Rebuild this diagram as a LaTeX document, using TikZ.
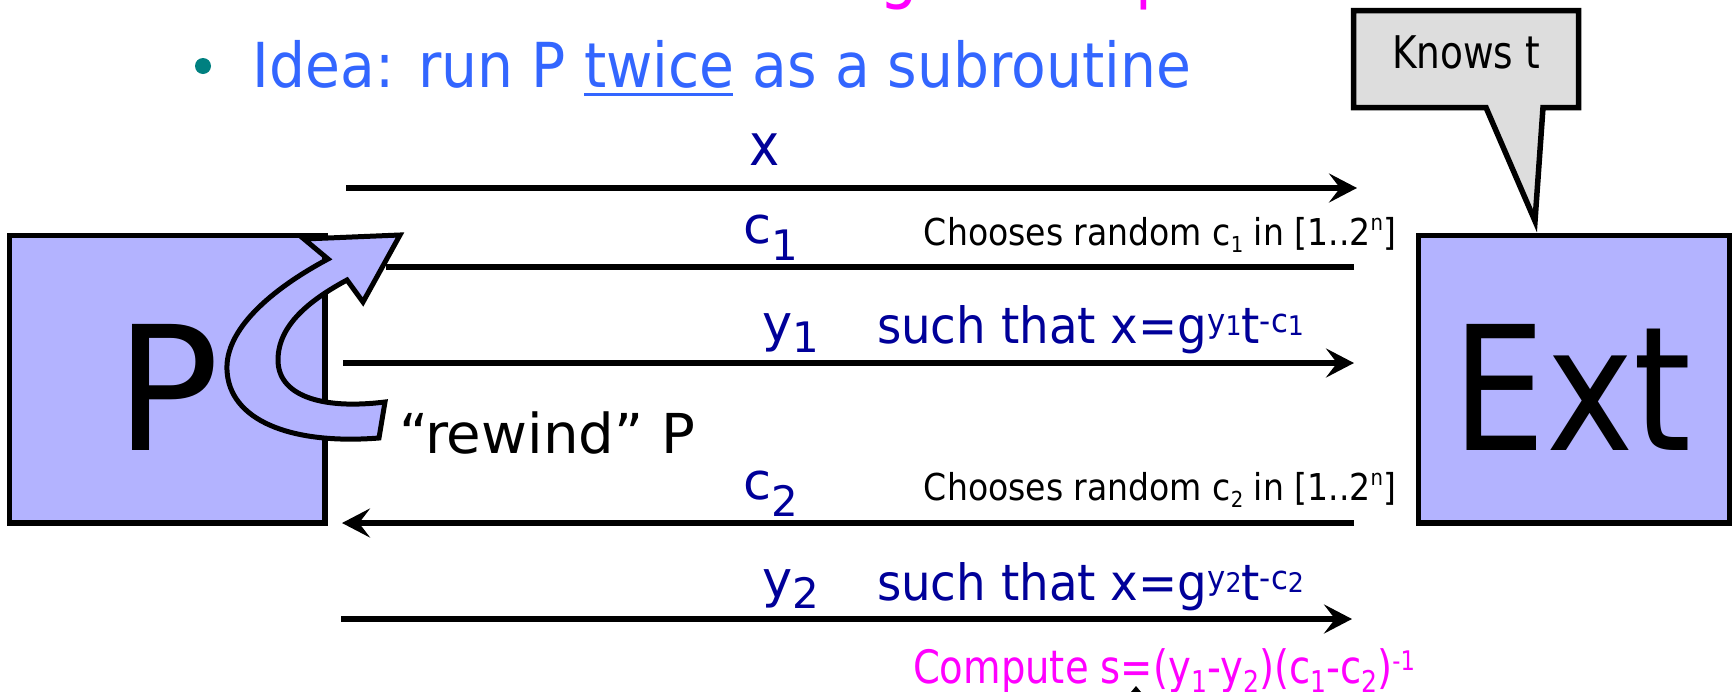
\documentclass[tikz,border=0pt]{standalone}
\usepackage{fontspec}
\usepackage{graphicx}
\setmainfont[FakeStretch=0.88]{DejaVu Sans}
\newfontfamily\widefont{DejaVu Sans}
\usetikzlibrary{arrows.meta}
\definecolor{boxfill}{HTML}{B3B3FF}
\definecolor{callfill}{HTML}{DDDDDD}
\definecolor{lbl}{HTML}{000099}
\definecolor{ideablue}{HTML}{3366FF}
\definecolor{mag}{HTML}{FF00FF}
\definecolor{bul}{HTML}{008080}
\newcommand{\fs}[1]{\fontsize{#1}{#1}\selectfont}
\newcommand{\fitto}[2]{\resizebox{#1}{\height}{#2}}
\newcommand{\lo}[1]{\raisebox{-9pt}{\fs{30}#1}}
\newcommand{\hi}[1]{\raisebox{13pt}{\fs{27}#1}}
\newcommand{\sups}[2]{\raisebox{11pt}{\fs{33}#1\raisebox{-3pt}{\fs{27}#2}}}
\begin{document}
\begin{tikzpicture}[x=1pt,y=-1pt,
  every node/.style={inner sep=0pt, outer sep=0pt},
  party/.style={draw=black, line width=5.5pt, fill=boxfill, minimum width=#1, minimum height=287.5pt},
  msg/.style={line width=5.5pt, -{Stealth[length=28pt,width=29pt,inset=11pt]}},
  plainmsg/.style={line width=5.5pt},
  lab/.style={text=lbl, anchor=base west},
  small/.style={text=black, anchor=base},
]
\useasboundingbox (0,0) rectangle (1732,691);

% title fragments (clipped by the top edge)
\node[anchor=base west, text=mag] (tg) at (879,-5) {\fs{70}g};
\node[anchor=base west, text=mag] (tp) at (1135,-5) {\fs{70}p};

% bullet line
\fill[bul] (203,66) circle[radius=8pt];
\node[anchor=base, text=ideablue] (idea) at (722,87) {\fitto{938pt}{\fs{62}Idea: run P twice as a subroutine}};
\draw[ideablue, line width=3pt] (584,94.5) -- (733,94.5);

% parties
\node[party=315.5pt] (P) at (167.25,379.25) {};
\node[party=311pt] (Ext) at (1574,379.25) {};
\node[anchor=base] (Ptext) at (168,450) {\widefont\fs{173}P};
\node[anchor=base] (Etext) at (1572,450) {\fitto{239pt}{\widefont\fs{173}Ext}};

% messages
\coordinate (xL) at (346,188);   \coordinate (xR) at (1357,188);
\coordinate (c1R) at (1354,267); \coordinate (c1L) at (386,267);
\coordinate (y1L) at (343,363);  \coordinate (y1R) at (1354,363);
\coordinate (c2R) at (1354,523); \coordinate (c2L) at (342,523);
\coordinate (y2L) at (341,619);  \coordinate (y2R) at (1352,619);
\draw[msg] (xL) -- (xR);
\draw[plainmsg] (c1R) -- (c1L);
\draw[msg] (y1L) -- (y1R);
\draw[msg] (c2R) -- (c2L);
\draw[msg] (y2L) -- (y2R);

% rewind arrow
\draw[line width=5pt, fill=boxfill, line join=miter]
  (400,235) -- (304,239) -- (328,259)
  .. controls (270,290) and (225,330) .. (227,370)
  .. controls (229,420) and (290,445) .. (379,438)
  -- (385,402)
  .. controls (320,410) and (278,395) .. (278,360)
  .. controls (278,325) and (310,300) .. (347,280)
  -- (363,302) -- cycle;
\node[anchor=base west] (rewind) at (399,453) {\fitto{296pt}{\widefont\fs{55}“rewind” P}};

% callout
\draw[line width=5.5pt, fill=callfill, line join=miter]
  (1353.5,10.5) -- (1578.5,10.5) -- (1578.5,107.5) -- (1543,107.5)
  -- (1535,221) -- (1486,107.5) -- (1353.5,107.5) -- cycle;
\node[anchor=base] (knows) at (1466,68) {\fitto{148pt}{\fs{45}Knows t}};

% labels
\node[anchor=base, text=lbl] (lx) at (765,165) {\fs{58}x};
\node[lab] (lc1) at (743,243) {\widefont\fs{51}c\raisebox{-17pt}{\fs{42}1}};
\node[small] (ch1) at (1160,245) {\fitto{472pt}{\fs{37}Chooses random c\raisebox{-7pt}{\fs{22}1} in [1..2\raisebox{15pt}{\fs{22}n}]}};
\node[lab] (ly1) at (762,341) {\widefont\fs{51}y\raisebox{-11pt}{\fs{42}1}};
\node[lab] (st1) at (877,343) {\fitto{427pt}{\fs{50}such that x=g\sups{y}{1}t\sups{-c}{1}}};
\node[lab] (lc2) at (743,499) {\widefont\fs{51}c\raisebox{-17pt}{\fs{42}2}};
\node[small] (ch2) at (1160,500) {\fitto{472pt}{\fs{37}Chooses random c\raisebox{-7pt}{\fs{22}2} in [1..2\raisebox{15pt}{\fs{22}n}]}};
\node[lab] (ly2) at (762,597) {\widefont\fs{51}y\raisebox{-11pt}{\fs{42}2}};
\node[lab] (st2) at (877,600) {\fitto{427pt}{\fs{50}such that x=g\sups{y}{2}t\sups{-c}{2}}};
\node[anchor=base west, text=mag] (comp) at (913,683) {\fitto{502pt}{\fs{46}Compute s=(y\lo{1}-y\lo{2})(c\lo{1}-c\lo{2})\hi{-1}}};

% small mark at the bottom edge
\fill (1131,692) -- (1136,686) -- (1141,692) -- cycle;
\end{tikzpicture}
\end{document}
